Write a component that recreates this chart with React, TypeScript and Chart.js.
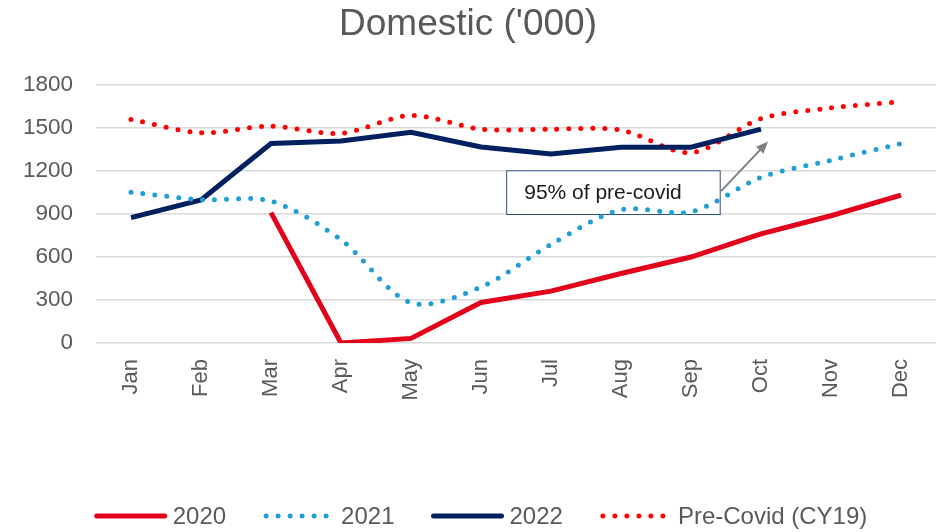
import React, { useEffect, useRef } from "react";
import { Chart, registerables } from "chart.js";

Chart.register(...registerables);

const months = ["Jan", "Feb", "Mar", "Apr", "May", "Jun", "Jul", "Aug", "Sep", "Oct", "Nov", "Dec"];
const series2020 = [null, null, 910, 0, 32, 283, 362, 485, 600, 762, 888, 1032];
const series2021 = [1052, 1000, 990, 720, 280, 390, 688, 930, 915, 1155, 1275, 1392];
const series2022 = [875, 998, 1392, 1410, 1470, 1368, 1318, 1366, 1366, 1492, null, null];
const seriesPreCovid = [1560, 1467, 1513, 1463, 1588, 1492, 1492, 1485, 1328, 1565, 1640, 1683];
const yTicks = [0, 300, 600, 900, 1200, 1500, 1800];
const annotationText = "95% of pre-covid";

const FONT = "'Liberation Sans', Arial, sans-serif";
const GREY = "#595959";

const annotationPlugin = {
  id: "annot",
  beforeDatasetsDraw(chart: any) {
    const { ctx, scales } = chart;
    const x = scales.x, y = scales.y;
    const l = x.getPixelForValue(5.36), r = x.getPixelForValue(8.41);
    const t = y.getPixelForValue(1205), b = y.getPixelForValue(900);
    ctx.save();
    ctx.fillStyle = "#FFFFFF";
    ctx.fillRect(l, t, r - l, b - t);
    ctx.strokeStyle = "#2F4F7F";
    ctx.lineWidth = 1;
    ctx.strokeRect(l + 0.5, t + 0.5, r - l, b - t);
    ctx.fillStyle = "#1a1a1a";
    ctx.font = `21px ${FONT}`;
    ctx.textBaseline = "middle";
    ctx.textAlign = "left";
    ctx.fillText(annotationText, l + 18, (t + b) / 2 + 1);
    ctx.restore();
  },
  afterDatasetsDraw(chart: any) {
    const { ctx, scales } = chart;
    const x = scales.x, y = scales.y;
    const x1 = x.getPixelForValue(8.43), y1 = y.getPixelForValue(1060);
    const x2 = x.getPixelForValue(9.1), y2 = y.getPixelForValue(1405);
    const ang = Math.atan2(y2 - y1, x2 - x1);
    const head = 13;
    ctx.save();
    ctx.strokeStyle = "#808080";
    ctx.fillStyle = "#808080";
    ctx.lineWidth = 2;
    ctx.beginPath();
    ctx.moveTo(x1, y1);
    ctx.lineTo(x2 - Math.cos(ang) * head * 0.8, y2 - Math.sin(ang) * head * 0.8);
    ctx.stroke();
    ctx.beginPath();
    ctx.moveTo(x2, y2);
    ctx.lineTo(x2 - head * Math.cos(ang - 0.4), y2 - head * Math.sin(ang - 0.4));
    ctx.lineTo(x2 - head * Math.cos(ang + 0.4), y2 - head * Math.sin(ang + 0.4));
    ctx.closePath();
    ctx.fill();
    ctx.restore();
  },
};

const legendPlugin = {
  id: "customLegend",
  afterDraw(chart: any) {
    const { ctx } = chart;
    const datasets = chart.data.datasets;
    const lineLen = 72, textGap = 6, itemGap = 37;
    ctx.save();
    ctx.font = `24px ${FONT}`;
    const widths = datasets.map((ds: any) => lineLen + textGap + ctx.measureText(ds.label).width);
    const total = widths.reduce((a: number, b: number) => a + b, 0) + itemGap * (datasets.length - 1);
    let x = 481 - total / 2;
    const y = 516;
    datasets.forEach((ds: any, i: number) => {
      ctx.strokeStyle = ds.borderColor;
      ctx.lineWidth = ds.borderWidth;
      ctx.lineCap = "round";
      ctx.setLineDash(ds.borderDash || []);
      ctx.beginPath();
      if (ds.borderDash) {
        ctx.moveTo(x + 3, y);
        ctx.lineTo(x + lineLen - 3, y);
      } else {
        ctx.moveTo(x + 2, y);
        ctx.lineTo(x + lineLen - 2, y);
      }
      ctx.stroke();
      ctx.setLineDash([]);
      ctx.fillStyle = GREY;
      ctx.textBaseline = "middle";
      ctx.textAlign = "left";
      ctx.fillText(ds.label, x + lineLen + textGap, y + 1);
      x += widths[i] + itemGap;
    });
    ctx.restore();
  },
};

export default function App() {
  const ref = useRef<HTMLCanvasElement>(null);
  useEffect(() => {
    if (!ref.current) return;
    const chart = new Chart(ref.current, {
      type: "line",
      data: {
        labels: months,
        datasets: [
          {
            label: "2020",
            data: series2020,
            borderColor: "#E3001B",
            backgroundColor: "#E3001B",
            borderWidth: 5,
            pointRadius: 0,
            tension: 0,
            borderCapStyle: "butt",
          },
          {
            label: "2021",
            data: series2021,
            borderColor: "#1F9FD6",
            backgroundColor: "#1F9FD6",
            borderWidth: 5,
            borderDash: [0, 12],
            borderCapStyle: "round",
            pointRadius: 0,
            tension: 0.3,
          },
          {
            label: "2022",
            data: series2022,
            borderColor: "#002060",
            backgroundColor: "#002060",
            borderWidth: 5,
            pointRadius: 0,
            tension: 0,
          },
          {
            label: "Pre-Covid (CY19)",
            data: seriesPreCovid,
            borderColor: "#FF0000",
            backgroundColor: "#FF0000",
            borderWidth: 5,
            borderDash: [0, 12],
            borderCapStyle: "round",
            pointRadius: 0,
            tension: 0.3,
          },
        ] as any,
      },
      options: {
        animation: false,
        responsive: false,
        maintainAspectRatio: false,
        layout: { padding: { top: 0, right: 13, bottom: 0, left: 0 } },
        plugins: {
          title: {
            display: true,
            text: "Domestic ('000)",
            color: GREY,
            font: { family: FONT, size: 37, weight: "normal", lineHeight: 1.2 },
            padding: { top: 3, bottom: 37.6 },
          },
          legend: { display: false },
          tooltip: { enabled: false },
        },
        scales: {
          x: {
            type: "category",
            offset: true,
            grid: { display: false },
            border: { display: false },
            ticks: {
              color: GREY,
              font: { family: FONT, size: 22 },
              maxRotation: 90,
              minRotation: 90,
              padding: 8,
            },
            afterFit(scale: any) {
              scale.height = 189;
            },
          },
          y: {
            min: 0,
            max: 1800,
            afterBuildTicks(scale: any) {
              scale.ticks = yTicks.map((v) => ({ value: v }));
            },
            afterFit(scale: any) {
              scale.width = 96;
            },
            grid: { color: "#D9D9D9", lineWidth: 1.5, drawTicks: false },
            border: { display: false },
            ticks: {
              color: GREY,
              font: { family: FONT, size: 22.5 },
              padding: 23,
              callback: (v: any) => String(v),
            },
          },
        },
      },
      plugins: [annotationPlugin, legendPlugin],
    });
    return () => chart.destroy();
  }, []);
  return (
    <div style={{ position: "absolute", left: 0, top: 0, width: 949, height: 532, background: "#fff" }}>
      <canvas ref={ref} width={949} height={532} style={{ width: 949, height: 532 }} />
    </div>
  );
}
